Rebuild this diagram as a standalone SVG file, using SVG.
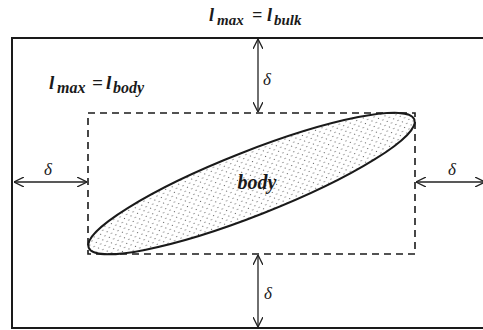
<svg xmlns="http://www.w3.org/2000/svg" width="483" height="330" viewBox="0 0 483 330">
<style>
.lbl{font-family:"Liberation Serif","Times New Roman",serif;font-style:italic;font-weight:bold;fill:#1a1a1a}
.dl{font-family:"Liberation Serif","Times New Roman",serif;font-style:italic;font-size:17px;fill:#1a1a1a}
.arr{stroke:#222;stroke-width:1.3;fill:none;marker-start:url(#ah);marker-end:url(#ah)}
</style>
<defs>
<marker id="ah" viewBox="0 0 10 10" refX="10" refY="5" markerWidth="10" markerHeight="10" markerUnits="userSpaceOnUse" orient="auto-start-reverse">
<path d="M0,0 L10,5 L0,10" fill="none" stroke="#222" stroke-width="1.3"/>
</marker>
<pattern id="dots" patternUnits="userSpaceOnUse" width="7" height="6">
<circle cx="1.5" cy="1.5" r="0.6" fill="#444"/>
<circle cx="5" cy="4.5" r="0.6" fill="#444"/>
</pattern>
</defs>
<rect width="483" height="330" fill="#fff"/>
<g id="bulk">
<path d="M490,38 L12,38 L12,328 L490,328" fill="none" stroke="#1a1a1a" stroke-width="2"/>
<text class="lbl" font-size="18" y="21"><tspan x="209">l</tspan><tspan font-size="15" x="217" y="25">max</tspan><tspan x="252" y="21">=</tspan><tspan x="267">l</tspan><tspan font-size="15" x="274" y="25">bulk</tspan></text>
</g>
<g id="bounding-box">
<rect x="88" y="113" width="327" height="141" fill="none" stroke="#1a1a1a" stroke-width="1.6" stroke-dasharray="7,5"/>
<text class="lbl" font-size="19" y="89"><tspan x="49">l</tspan><tspan font-size="16" x="57" y="93">max</tspan><tspan x="92" y="89">=</tspan><tspan x="106">l</tspan><tspan font-size="16" x="113" y="93">body</tspan></text>
</g>
<g id="body">
<ellipse cx="251.5" cy="183.5" rx="175" ry="32" transform="rotate(-21.5 251.5 183.5)" fill="url(#dots)" stroke="#1a1a1a" stroke-width="2"/>
<text class="lbl" font-size="20" x="257" y="189" text-anchor="middle">body</text>
</g>
<g id="connectors">
<line class="arr" x1="258" y1="39" x2="258" y2="112"/>
<line class="arr" x1="258" y1="255" x2="258" y2="327"/>
<line class="arr" x1="14" y1="182" x2="87" y2="182"/>
<line class="arr" x1="416" y1="182" x2="485" y2="182"/>
</g>
<g id="labels">
<text class="dl" x="263" y="85">δ</text>
<text class="dl" x="44" y="175">δ</text>
<text class="dl" x="448" y="175">δ</text>
<text class="dl" x="264" y="299">δ</text>
</g>
</svg>
